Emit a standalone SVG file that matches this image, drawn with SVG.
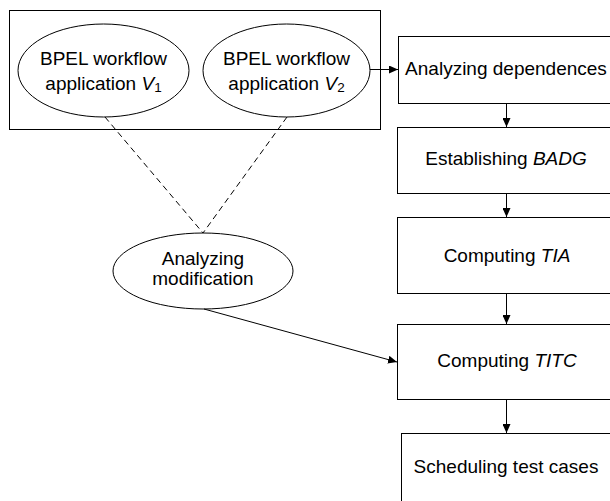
<svg xmlns="http://www.w3.org/2000/svg" width="610" height="501" viewBox="0 0 610 501">
<defs>
<marker id="arr" markerWidth="10" markerHeight="8" refX="9" refY="4" orient="auto" markerUnits="userSpaceOnUse">
<path d="M0,0 L9,4 L0,8 Z" fill="#000"/>
</marker>
<style>
.s{fill:#fff;stroke:#000;stroke-width:1}
.t{font-family:"Liberation Sans",Arial,sans-serif;font-size:19px;fill:#000;text-anchor:middle}
.i{font-style:italic}
.c{stroke:#000;stroke-width:1;fill:none}
.d{stroke:#000;stroke-width:1;fill:none;stroke-dasharray:6,4}
</style>
</defs>
<rect width="610" height="501" fill="#fff"/>
<g id="container"><rect class="s" x="9.5" y="10.5" width="371" height="119"/></g>
<g id="v1">
<ellipse class="s" cx="103.5" cy="70.5" rx="85.5" ry="46.5"/>
<text class="t" x="103.5" y="65">BPEL workflow</text>
<text class="t" x="103.5" y="90">application <tspan class="i">V</tspan><tspan font-size="13.5" dy="2">1</tspan></text>
</g>
<g id="v2">
<ellipse class="s" cx="286.5" cy="70.5" rx="83.5" ry="46.5"/>
<text class="t" x="286.5" y="65">BPEL workflow</text>
<text class="t" x="286.5" y="90">application <tspan class="i">V</tspan><tspan font-size="13.5" dy="2">2</tspan></text>
</g>
<g id="mod">
<ellipse class="s" cx="203" cy="271" rx="90" ry="38"/>
<text class="t" x="203" y="265">Analyzing</text>
<text class="t" x="203" y="285">modification</text>
</g>
<g id="dep"><rect class="s" x="398.5" y="36.5" width="220" height="67"/><text class="t" x="506" y="75">Analyzing dependences</text></g>
<g id="badg"><rect class="s" x="397.5" y="127.5" width="220" height="66"/><text class="t" x="506" y="165">Establishing <tspan class="i">BADG</tspan></text></g>
<g id="tia"><rect class="s" x="397.5" y="217.5" width="220" height="76"/><text class="t" x="507" y="262">Computing <tspan class="i">TIA</tspan></text></g>
<g id="titc"><rect class="s" x="397.5" y="324.5" width="220" height="75"/><text class="t" x="507" y="367">Computing <tspan class="i">TITC</tspan></text></g>
<g id="sched"><rect class="s" x="401.5" y="433.5" width="220" height="80"/><text class="t" x="506" y="473">Scheduling test cases</text></g>
<g id="connectors">
<line class="d" x1="105" y1="117" x2="203" y2="233"/>
<line class="d" x1="287" y1="117" x2="203" y2="233"/>
<line class="c" x1="370" y1="69.5" x2="398" y2="69.5" marker-end="url(#arr)"/>
<line class="c" x1="506.5" y1="104" x2="506.5" y2="127" marker-end="url(#arr)"/>
<line class="c" x1="506.5" y1="194" x2="506.5" y2="217" marker-end="url(#arr)"/>
<line class="c" x1="506.5" y1="294" x2="506.5" y2="324" marker-end="url(#arr)"/>
<line class="c" x1="506.5" y1="400" x2="506.5" y2="433" marker-end="url(#arr)"/>
<line class="c" x1="204" y1="309" x2="397" y2="362" marker-end="url(#arr)"/>
</g>
</svg>
